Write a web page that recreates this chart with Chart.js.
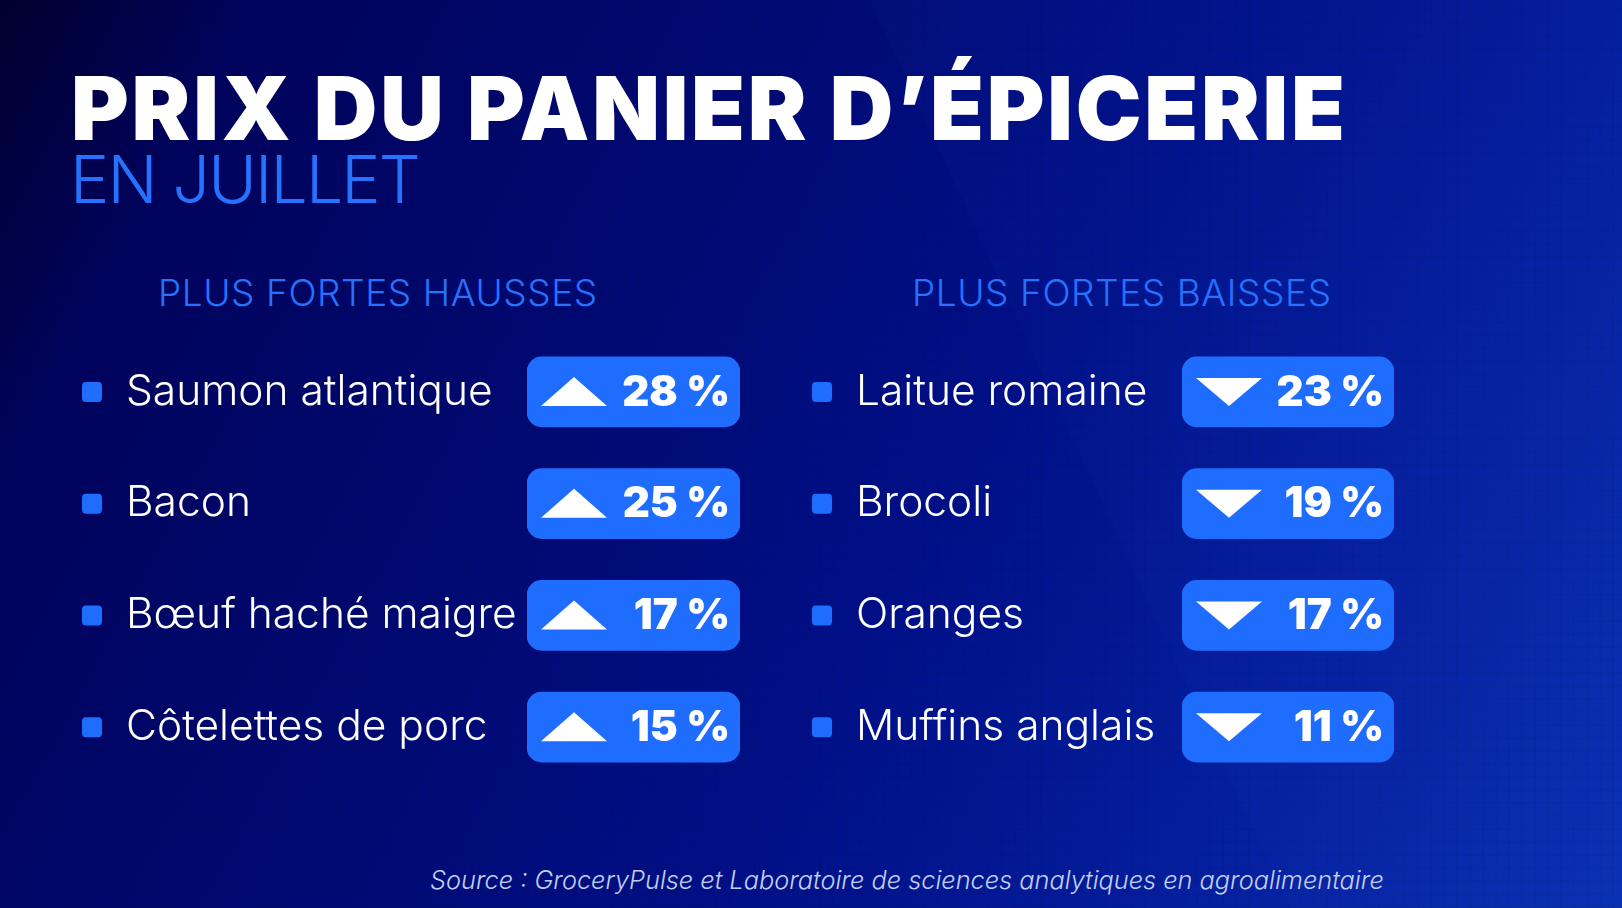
<!DOCTYPE html>
<html lang="fr">
<head>
<meta charset="utf-8">
<title>Prix du panier d'épicerie</title>
<script src="https://cdn.jsdelivr.net/npm/chart.js@4"></script>
<style>
  html, body { margin: 0; padding: 0; }
  body {
    position: relative; width: 1622px; height: 908px; overflow: hidden;
    background: linear-gradient(118deg, #00002e 0%, #00035c 12%, #000a74 38%, #001088 58%, #041e9e 78%, #0a30b2 100%);
    font-family: Inter, sans-serif;
  }
  .panel { position: absolute; inset: 0;
    clip-path: polygon(870px 0, 1622px 0, 1622px 908px, 1290px 908px);
    background: linear-gradient(90deg, rgba(60,100,230,.05), rgba(60,100,230,.02)); }
  .mesh { position: absolute; inset: 0;
    background-image:
      repeating-linear-gradient(90deg, rgba(0,0,30,.04) 0 2px, transparent 2px 13px),
      repeating-linear-gradient(0deg, rgba(0,0,30,.04) 0 2px, transparent 2px 13px); }
  .txt { position: absolute; white-space: nowrap; line-height: 1; }
  #title { left: 71px; top: 64px; font-size: 88px; font-weight: 900; letter-spacing: 2.8px; color: #fff; }
  #sub { left: 70px; top: 146px; font-size: 66px; font-weight: 300; letter-spacing: -1.8px; color: #2672ff; }
  .head { top: 274px; font-size: 37px; font-weight: 300; letter-spacing: .58px; color: #2672ff; }
  #source { left: 430px; top: 867px; font-size: 25.3px; font-style: italic; font-weight: 300; color: #c3cff2; }
  canvas { position: absolute; top: 336px; }
</style>
</head>
<body>
<div class="panel"></div>
<div class="mesh"></div>
<div class="txt" id="title">PRIX DU PANIER D’ÉPICERIE</div>
<div class="txt" id="sub">EN JUILLET</div>
<div class="txt head" style="left:158px">PLUS FORTES HAUSSES</div>
<div class="txt head" style="left:912px">PLUS FORTES BAISSES</div>
<canvas id="hausses" width="780" height="447" style="left:0"></canvas>
<canvas id="baisses" width="704" height="447" style="left:730px"></canvas>
<div class="txt" id="source">Source : GroceryPulse et Laboratoire de sciences analytiques en agroalimentaire</div>
<script>
const hausseLabels = ['Saumon atlantique', 'Bacon', 'Bœuf haché maigre', 'Côtelettes de porc'];
const hausseValues = [28, 25, 17, 15];
const baisseLabels = ['Laitue romaine', 'Brocoli', 'Oranges', 'Muffins anglais'];
const baisseValues = [23, 19, 17, 11];

const BLUE = '#1f6dff';

// Badge contents and list bullets, placed from the bar elements and the y scale
const badgePlugin = {
    id: 'badgePlugin',
    afterDatasetsDraw(chart, args, opts) {
        const ctx = chart.ctx;
        const yScale = chart.scales.y;
        chart.getDatasetMeta(0).data.forEach((bar, i) => {
            const raw = chart.data.datasets[0].data[i];
            const left = bar.base;
            const right = bar.x;
            const cy = bar.y;

            // triangle
            const tx = left + 47;
            ctx.fillStyle = '#ffffff';
            ctx.beginPath();
            if (opts.up) {
                ctx.moveTo(tx - 33, cy + 14);
                ctx.lineTo(tx + 33, cy + 14);
                ctx.lineTo(tx, cy - 15);
            } else {
                ctx.moveTo(tx - 33, cy - 14);
                ctx.lineTo(tx + 33, cy - 14);
                ctx.lineTo(tx, cy + 14);
            }
            ctx.closePath();
            ctx.fill();

            // value
            ctx.font = '900 42px Inter';
            ctx.textAlign = 'right';
            ctx.textBaseline = 'middle';
            ctx.fillText(raw.pct + '\u00A0%', right - 10, cy + 1);

            // bullet
            ctx.fillStyle = BLUE;
            ctx.beginPath();
            ctx.roundRect(yScale.left - 44, yScale.getPixelForValue(i) - 10, 20, 20, 4);
            ctx.fill();
        });
    }
};

function drawColumn(canvasId, labels, values, up, labelWidth) {
    new Chart(document.getElementById(canvasId), {
        type: 'bar',
        data: {
            labels: labels,
            datasets: [{
                // badges all have the same width, the value only shows as text
                data: values.map((v, i) => ({ x: 1, y: labels[i], pct: v })),
                backgroundColor: BLUE,
                borderWidth: 0,
                borderSkipped: false,
                borderRadius: 15,
                barThickness: 70
            }]
        },
        options: {
            indexAxis: 'y',
            responsive: false,
            animation: false,
            layout: { padding: { left: 126, right: 40, top: 0, bottom: 0 } },
            plugins: {
                legend: { display: false },
                tooltip: { enabled: false },
                badgePlugin: { up: up }
            },
            scales: {
                x: { display: false, min: 0, max: 1 },
                y: {
                    afterFit: scale => {
                        scale.width = labelWidth;
                        // rows fill the full canvas height
                        scale.paddingTop = 0;
                        scale.paddingBottom = 0;
                    },
                    grid: { display: false },
                    border: { display: false },
                    ticks: {
                        crossAlign: 'far',
                        color: '#ffffff',
                        font: { family: 'Inter', size: 42.5, weight: '300' }
                    }
                }
            }
        },
        plugins: [badgePlugin]
    });
}

drawColumn('hausses', hausseLabels, hausseValues, true, 401);
drawColumn('baisses', baisseLabels, baisseValues, false, 326);
</script>
</body>
</html>
